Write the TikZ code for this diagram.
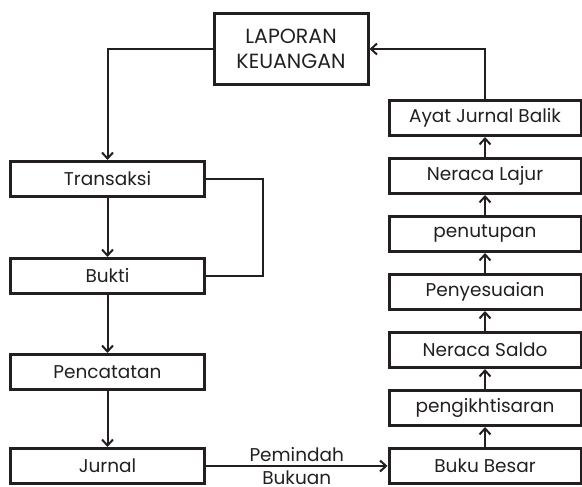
\documentclass[tikz,border=0pt]{standalone}
\usepackage{fontspec}
\setmainfont{Poppins}
\usepackage{tikz}
\usetikzlibrary{arrows.meta,positioning}
\definecolor{inkblack}{HTML}{231F20}
\newcommand{\boxfont}{\fontsize{18.5}{23}\selectfont}
\newcommand{\headfont}{\fontsize{20.5}{25}\selectfont}

\begin{document}
\begin{tikzpicture}[
x=1pt,y=-1pt,
node distance=20pt,
box/.style={rectangle,draw=inkblack,line width=3pt,text=inkblack,minimum width=194pt,minimum height=35pt,inner sep=0pt,font=\boxfont},
rbox/.style={box,minimum width=192pt},
arr/.style={-{Straight Barb[length=6pt,width=11pt,line width=2pt]},line width=2pt,inkblack},
link/.style={line width=1.2pt,inkblack}
]
\useasboundingbox (0,0) rectangle (582,487);
\node[box,minimum width=154pt,minimum height=71pt,align=center,font=\headfont] (lap) at (291,49) {LAPORAN\\KEUANGAN};
% left column
\node[box] (trans) at (107.5,179) {Transaksi};
\node[box,below=59pt of trans] (bukti) {Bukti};
\node[box,below=58pt of bukti] (catat) {Pencatatan};
\node[box,below=56pt of catat] (jurnal) {Jurnal};
% right column
\node[rbox] (besar) at (485,466) {Buku Besar};
\node[rbox,above=of besar] (ikhtisar) {pengikhtisaran};
\node[rbox,above=of ikhtisar] (saldo) {Neraca Saldo};
\node[rbox,above=of saldo] (sesuai) {Penyesuaian};
\node[rbox,above=of sesuai] (tutup) {penutupan};
\node[rbox,above=of tutup] (lajur) {Neraca Lajur};
\node[rbox,above=of lajur] (balik) {Ayat Jurnal Balik};
\draw[arr] (lap.west) -| (trans.north);
\draw[arr] (trans) -- (bukti);
\draw[arr] (bukti) -- (catat);
\draw[arr] (catat) -- (jurnal);
\draw[link] (trans.east) -- ++(57,0) |- (bukti.east);
\draw[arr] (jurnal) -- node[above=0pt,font=\boxfont,text=inkblack]{Pemindah} node[below=0pt,font=\boxfont,text=inkblack]{Bukuan} (besar);
\draw[arr] (besar) -- (ikhtisar);
\draw[arr] (ikhtisar) -- (saldo);
\draw[arr] (saldo) -- (sesuai);
\draw[arr] (sesuai) -- (tutup);
\draw[arr] (tutup) -- (lajur);
\draw[arr] (lajur) -- (balik);
\draw[arr] (balik.north) |- (lap.east);
\end{tikzpicture}
\end{document}
